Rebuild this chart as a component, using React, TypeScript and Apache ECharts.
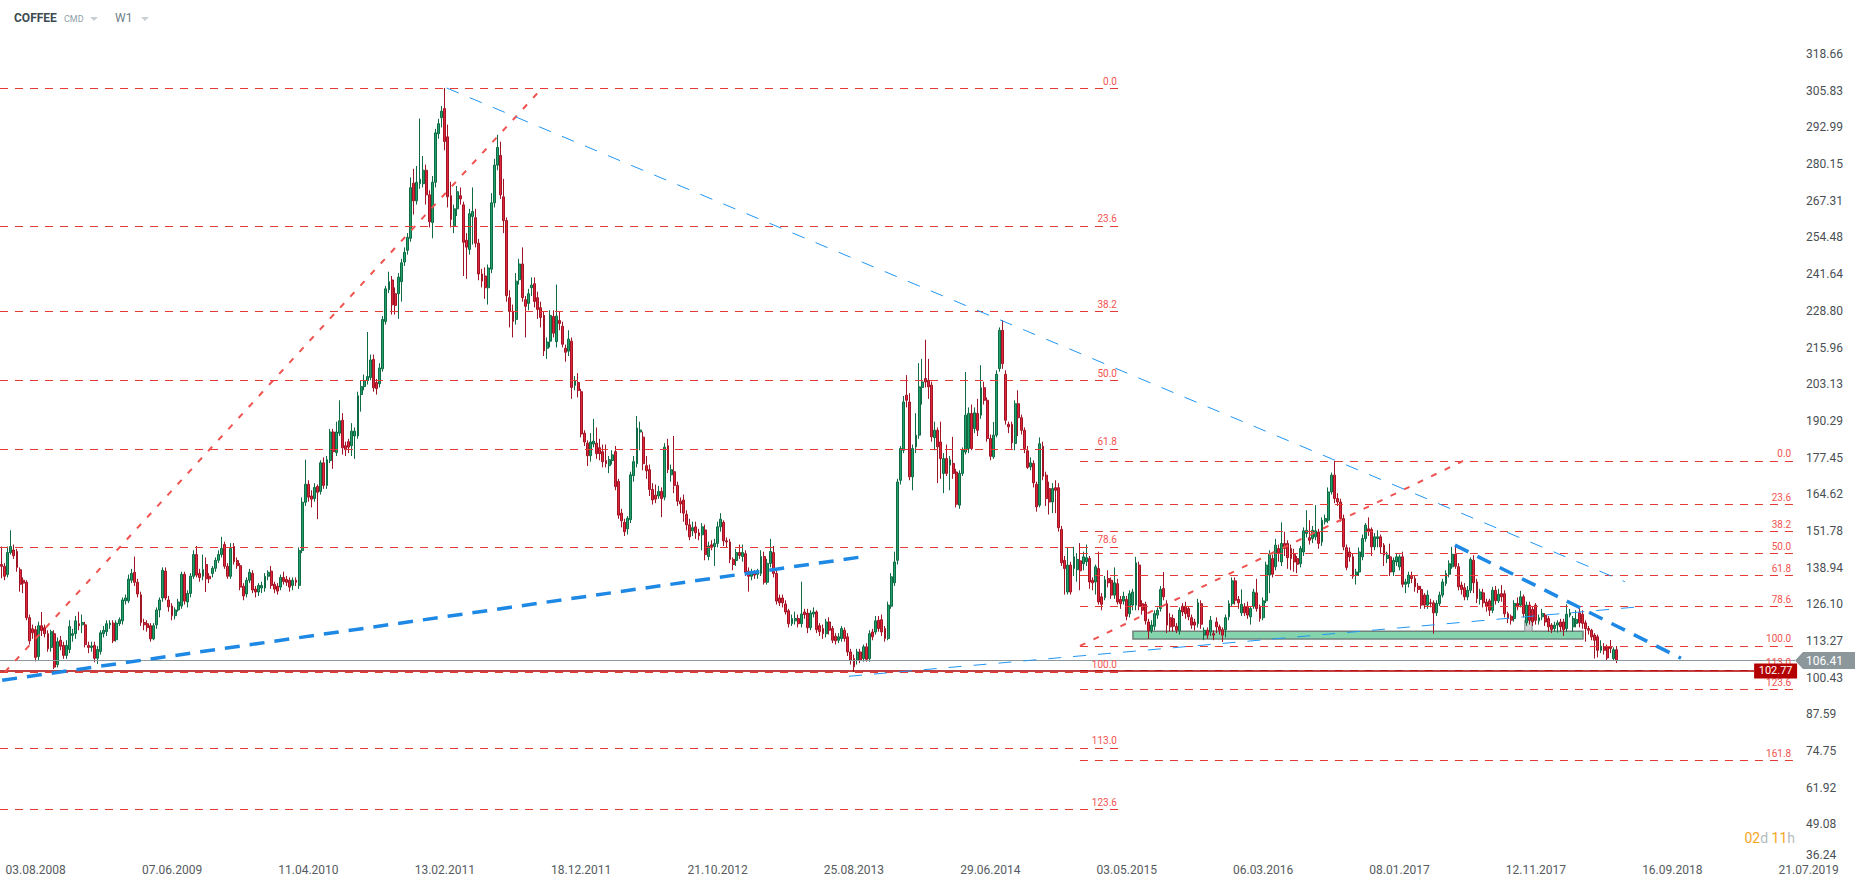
import React, { useEffect, useRef } from "react";
import * as echarts from "echarts";

const FONT = "Roboto, 'Noto Sans', Arial, sans-serif";

// ---------- axes ----------
const firstWeekUTC = Date.UTC(2008, 4, 18);
const weekCount = 602;
const xTickLabels = [
  "03.08.2008", "07.06.2009", "11.04.2010", "13.02.2011", "18.12.2011", "21.10.2012", "25.08.2013",
  "29.06.2014", "03.05.2015", "06.03.2016", "08.01.2017", "12.11.2017", "16.09.2018", "21.07.2019",
];
const yTickLabels = [
  "36.24", "49.08", "61.92", "74.75", "87.59", "100.43", "113.27", "126.10", "138.94", "151.78", "164.62", "177.45",
  "190.29", "203.13", "215.96", "228.80", "241.64", "254.48", "267.31", "280.15", "292.99", "305.83", "318.66",
];
const yAxisMin = 36.24;
const yAxisMax = 327.1;

// ---------- weekly candles [open, close, low, high] ----------
const candles2008to2010 = [
  [140.0,139.4,135.2,146.3],[139.4,135.9,134.5,140.5],[136.5,144.2,135.5,146.3],[144.2,146.3,143.5,152.0],[145.1,143.1,142.0,147.0],
  [144.6,139.0,137.5,145.5],[138.2,133.1,130.5,139.0],[134.5,133.5,130.0,135.5],[133.8,121.4,120.5,134.5],[121.4,113.3,112.0,122.5],
  [117.5,116.1,114.0,119.0],[117.2,107.5,106.1,118.5],[107.8,118.6,106.5,120.0],[118.6,116.9,115.0,123.4],[117.9,115.8,114.5,119.0],
  [115.8,110.5,109.5,117.0],[111.0,116.5,109.5,117.2],[115.8,104.1,103.4,117.0],[105.0,113.0,104.0,114.5],[113.5,111.4,110.0,115.0],
  [111.7,108.2,107.0,113.0],[108.2,111.7,107.0,113.5],[110.3,118.3,109.0,120.5],[115.2,115.8,113.0,117.5],[115.8,120.3,114.0,122.0],
  [119.3,118.6,117.0,123.5],[118.9,119.7,116.0,122.5],[118.9,112.0,111.0,120.0],[111.7,111.0,109.0,113.0],[111.0,111.5,109.5,113.0],
  [111.7,107.2,105.8,113.0],[107.2,110.3,105.2,111.5],[109.6,116.1,108.5,117.0],[115.8,117.0,114.5,118.5],[116.5,119.3,115.0,120.5],
  [118.9,119.5,117.5,120.5],[119.5,113.3,112.5,120.5],[113.7,119.5,113.0,120.5],[119.3,120.7,118.5,121.5],[120.3,127.6,119.0,128.5],
  [127.3,128.3,126.0,129.5],[127.3,134.9,126.5,136.5],[134.5,136.9,133.5,138.5],[137.3,133.8,132.5,142.8],[133.8,129.7,128.5,135.0],
  [129.4,119.7,118.5,130.5],[119.7,118.9,117.0,121.0],[119.3,117.9,116.5,120.5],[118.6,114.0,113.0,119.5],[114.0,118.6,113.5,119.5],
  [118.9,124.1,117.5,125.0],[124.1,127.6,121.5,128.5],[128.3,138.0,127.0,139.0],[137.7,128.3,127.5,139.0],[127.6,125.2,123.5,129.0],
  [125.5,122.1,120.5,126.5],[122.1,124.1,120.8,125.0],[124.1,126.9,123.5,128.0],[125.5,136.6,124.5,137.5],[136.6,127.2,126.0,137.5],
  [126.9,129.9,125.0,131.0],[129.9,135.9,128.5,137.0],[135.9,143.5,135.0,145.0],[143.5,136.3,135.5,146.5],[136.9,135.5,134.0,138.5],
  [135.9,138.2,134.5,143.5],[140.0,135.0,130.4,142.5],[135.9,135.0,133.5,137.0],[136.9,138.7,135.5,139.5],[138.7,141.5,137.5,142.5],
  [141.5,143.5,140.5,145.0],[143.5,145.6,142.5,149.7],[147.0,139.4,138.5,148.0],[139.4,135.9,135.0,140.5],[135.9,145.6,135.0,147.5],
  [146.3,141.0,140.0,147.5],[141.4,139.6,138.5,142.5],[139.6,132.1,131.0,140.5],[132.4,129.0,127.5,133.5],[129.7,134.5,128.5,135.5],
  [134.5,137.3,133.5,138.5],[136.9,131.1,130.0,138.0],[131.4,130.4,128.5,132.5],[130.4,132.7,129.0,133.5],[131.8,132.7,130.0,134.0],
  [131.8,135.9,130.5,137.0],[135.9,137.3,134.5,138.0],[137.7,132.7,131.5,139.5],[133.1,131.4,130.0,134.0],[132.4,130.7,129.5,133.5],
  [132.1,135.5,131.0,136.5],[135.5,134.1,133.0,137.5],[134.8,133.8,132.5,136.0],[134.5,132.1,130.5,135.5],[132.7,134.5,131.0,135.5],
  [134.5,133.8,132.5,135.5],[132.7,144.9,131.5,146.0],[144.9,161.8,144.0,163.5],[161.8,168.1,160.5,176.7],[168.1,163.6,162.0,169.5],
  [164.0,162.9,160.0,166.0],[163.1,167.0,162.0,168.5],[167.3,165.3,155.9,168.0],[165.6,175.6,164.5,176.5],[175.6,167.7,166.5,177.5],
  [167.7,176.7,166.5,178.0],[176.4,186.4,175.5,187.5],[186.4,179.5,173.5,187.5],[179.2,186.4,178.0,190.0],[186.0,190.3,185.0,197.5],
  [190.5,180.9,178.5,193.0],[181.6,180.2,178.0,183.0],[183.0,181.1,179.0,184.0],[181.6,186.7,178.0,189.5],[185.0,186.7,177.0,188.0],
  [185.0,199.1,184.0,200.5],[199.5,202.3,193.5,204.5],[202.3,204.4,201.0,206.5],[204.4,205.8,203.0,221.4],[205.5,211.6,204.5,213.5],
  [211.8,201.9,200.5,213.5],[203.7,201.6,199.5,205.0],[203.3,208.8,202.0,210.5],[208.5,225.8,207.5,227.0],[225.1,236.5,224.0,237.5],
  [236.2,239.0,235.0,242.5],[239.6,230.9,227.5,241.0],[234.8,230.7,227.5,237.0],[234.8,240.6,226.0,242.0],[239.0,245.6,232.0,247.0],
  [245.9,249.3,244.5,251.0],[250.0,254.5,248.5,256.0],[254.2,271.9,253.0,275.5],[273.5,267.3,262.5,278.5],[267.3,273.8,266.0,279.5],
];
const candles2011to2013 = [
  [273.3,274.9,271.5,296.1],[273.3,278.0,272.0,283.0],[278.0,269.4,266.0,280.0],[269.4,260.0,258.0,271.0],[259.7,273.8,254.2,276.0],
  [273.8,291.1,272.0,292.5],[290.8,294.3,289.0,296.0],[296.4,298.7,293.0,300.5],[299.6,288.1,285.0,306.8],[289.7,268.7,265.0,294.0],
  [269.1,260.8,258.0,274.0],[258.6,264.5,256.0,266.0],[264.5,270.5,262.0,272.5],[269.1,268.0,266.0,272.0],[265.9,252.8,241.0,267.0],
  [253.5,251.1,240.0,256.0],[250.3,262.8,248.5,264.5],[261.8,263.6,252.0,272.0],[261.4,252.5,251.0,264.5],[252.5,241.7,239.5,254.0],
  [241.7,239.2,237.0,243.5],[241.0,236.9,233.0,244.0],[236.9,243.8,231.0,245.0],[243.4,266.6,242.0,270.0],[266.6,279.8,265.0,282.0],
  [279.8,286.0,278.0,290.4],[283.2,269.4,268.0,288.0],[268.7,260.4,256.0,275.0],[260.4,234.1,232.0,261.5],[233.4,228.6,223.0,236.0],
  [228.6,225.1,219.5,231.0],[225.8,239.2,224.0,242.0],[239.7,245.2,238.0,247.0],[245.2,233.4,232.0,251.0],[232.7,230.4,219.5,234.0],
  [231.4,234.8,229.0,236.5],[236.9,237.8,234.0,240.5],[238.3,232.1,230.0,240.5],[233.4,229.3,226.0,235.5],[229.9,226.5,223.0,232.0],
  [227.2,214.8,213.0,228.5],[215.7,217.9,212.0,219.5],[218.2,227.2,216.0,229.0],[226.8,221.0,219.5,229.0],[218.0,227.0,216.0,238.0],
  [225.4,224.4,222.0,228.5],[223.4,217.1,216.0,225.0],[215.7,214.3,211.0,217.0],[214.7,218.9,213.0,222.0],[218.2,202.0,198.0,219.5],
  [202.7,204.4,201.0,206.0],[203.7,200.9,198.5,207.0],[200.5,185.7,184.5,201.5],[186.0,182.9,181.5,187.0],[182.5,178.1,174.5,183.5],
  [178.1,182.9,176.0,186.0],[182.2,183.2,181.0,191.0],[182.5,178.8,177.0,188.0],[180.9,178.8,176.5,184.0],[179.5,176.0,174.0,182.0],
  [176.4,175.3,174.0,182.0],[174.6,176.7,172.0,178.0],[176.4,178.4,175.0,180.0],[179.5,167.3,166.0,181.5],[169.1,157.3,156.0,170.0],
  [158.0,155.3,153.0,159.5],[154.8,151.5,150.0,156.0],[152.5,156.2,150.5,157.0],[155.7,171.4,154.5,172.5],[171.1,176.0,169.0,178.0],
  [175.3,187.8,174.0,192.0],[186.4,187.1,180.0,190.0],[184.6,175.3,173.0,186.5],[174.6,172.8,170.0,178.0],[173.2,166.3,164.0,175.0],
  [166.3,162.6,161.0,168.5],[164.3,162.9,161.5,168.0],[164.0,165.6,163.0,167.5],[165.6,163.1,156.6,167.0],[163.6,181.1,162.5,182.5],
  [181.6,173.2,172.0,184.0],[171.4,173.2,169.0,175.0],[172.5,167.7,165.0,185.0],[167.7,162.2,160.5,169.0],[162.2,161.2,158.0,163.5],
  [162.6,158.0,155.0,164.5],[157.6,153.9,152.0,159.0],[153.9,149.7,148.5,156.0],[151.8,152.9,150.0,155.0],[153.2,151.1,149.0,155.0],
  [151.1,150.1,148.5,152.5],[150.4,153.2,145.0,154.5],[152.1,143.5,141.5,154.0],[142.8,146.5,141.5,148.0],[146.9,146.3,145.0,148.5],
  [146.3,147.4,139.5,149.0],[147.4,153.2,146.0,155.0],[153.2,155.9,151.5,158.0],[154.8,148.3,146.5,155.5],[148.3,147.9,146.0,149.5],
  [147.9,141.8,140.5,149.0],[141.8,140.0,138.0,142.5],[141.4,144.2,139.5,145.5],[144.2,143.2,142.0,147.0],[142.8,144.2,141.0,147.0],
  [143.8,137.3,136.0,145.0],[137.7,135.9,130.5,139.0],[135.9,137.5,134.5,138.5],[137.3,136.3,135.0,138.0],[136.6,137.3,135.0,138.5],
  [136.9,142.8,136.0,145.0],[142.8,133.8,133.0,144.5],[133.8,140.4,133.0,142.0],[140.4,144.6,139.0,149.0],[144.2,136.9,135.5,146.5],
  [136.9,127.2,126.0,138.0],[128.3,126.6,125.5,129.5],[128.3,126.6,125.0,129.5],[126.2,123.4,122.5,127.5],[123.8,119.3,118.0,124.5],
  [119.3,121.1,118.5,122.5],[120.3,121.1,119.0,123.5],[121.1,119.3,118.0,122.5],[119.3,122.7,118.0,134.0],[123.4,122.5,121.0,124.5],
  [123.0,117.9,116.0,124.5],[117.9,123.0,117.0,124.0],[122.7,123.4,121.5,125.0],[123.4,117.2,116.0,124.0],[118.6,116.5,115.0,119.5],
];
const candles2013to2015 = [
  [117.6,115.8,114.0,119.0],[115.8,119.9,114.5,121.0],[119.9,117.0,115.5,121.5],[117.6,113.5,112.5,118.5],[114.9,113.3,112.0,116.0],
  [113.5,114.7,112.5,116.0],[114.1,117.6,113.0,118.5],[117.0,114.1,113.0,118.0],[114.7,109.4,108.0,116.0],[109.4,106.5,105.0,110.5],
  [107.1,104.2,102.4,108.5],[106.5,109.4,105.0,110.5],[109.4,106.5,105.5,110.5],[107.1,111.2,106.0,112.0],[111.2,106.8,106.0,112.5],
  [107.1,115.8,106.0,117.0],[116.4,114.7,113.5,117.5],[116.4,120.3,115.5,122.0],[120.5,117.6,116.5,122.0],[120.7,116.4,115.0,122.5],
  [117.6,114.1,113.0,118.5],[114.1,125.8,113.5,127.0],[125.4,135.7,124.5,137.0],[133.6,140.9,132.5,144.5],[141.5,168.9,140.0,170.0],
  [169.5,180.6,168.0,181.5],[180.0,196.9,179.0,199.0],[199.3,197.5,195.0,206.3],[196.9,170.7,169.5,200.0],[170.7,180.6,166.0,182.0],
  [181.2,185.3,179.0,193.0],[185.3,202.2,184.0,210.5],[202.0,203.9,196.0,212.0],[205.1,203.9,202.0,218.7],[204.5,202.2,198.0,212.0],
  [202.8,184.7,183.0,204.0],[184.4,187.0,180.0,190.0],[187.0,181.2,168.5,188.0],[182.9,177.1,170.0,190.0],[171.9,177.1,165.0,179.0],
  [177.1,171.9,171.0,182.0],[174.8,176.7,166.0,178.0],[175.4,171.9,170.0,184.7],[172.4,161.1,160.0,173.5],[160.8,171.9,159.5,173.0],
  [171.9,180.0,171.0,181.0],[179.4,192.3,178.5,207.4],[180.6,192.9,179.0,195.0],[192.9,180.6,180.0,196.0],[187.6,193.1,186.0,195.0],
  [192.9,187.0,185.0,198.0],[192.3,201.9,191.0,209.8],[201.9,197.5,196.0,204.0],[197.5,184.1,183.0,198.5],[184.1,177.9,176.5,185.5],
  [177.7,185.3,177.0,189.9],[185.3,206.6,184.5,208.0],[208.6,222.0,207.5,223.0],[222.0,210.3,208.5,225.5],[206.6,190.5,189.0,208.0],
  [189.1,188.2,186.0,190.0],[189.1,182.6,180.5,190.0],[182.4,196.3,180.0,197.5],[196.3,191.4,185.0,201.0],[191.4,187.0,185.5,192.5],
  [187.0,180.6,179.0,188.0],[179.8,174.0,173.5,181.5],[174.2,175.6,173.0,177.5],[175.4,168.6,167.0,176.5],[168.1,160.2,158.5,169.0],
  [160.8,182.3,160.0,184.5],[181.4,170.9,169.5,183.0],[171.3,163.1,160.5,172.5],[166.6,161.9,157.5,169.0],[161.9,166.6,158.0,168.5],
  [166.9,166.0,158.0,169.5],[166.9,152.9,151.5,168.5],[152.3,140.6,139.5,153.5],[141.5,138.6,129.5,143.0],[130.4,139.8,129.5,146.0],
  [139.8,130.4,129.5,141.0],[138.6,142.7,136.0,146.2],[138.2,141.8,134.0,144.0],[141.3,137.8,131.0,147.5],[140.3,142.7,138.0,144.5],
  [141.0,142.4,139.5,147.0],[142.1,133.9,131.5,143.0],[134.5,133.6,131.0,135.5],[133.9,139.2,129.5,140.0],[138.6,126.9,126.0,144.5],
  [128.7,126.1,124.0,130.0],[128.4,134.7,127.5,136.0],[135.1,133.6,132.0,138.0],[134.5,129.3,128.0,135.5],[129.3,133.6,128.0,139.0],
  [133.3,126.9,126.0,135.0],[127.8,126.3,124.5,129.0],[127.2,128.9,126.0,130.5],[127.8,121.9,120.5,129.0],[122.8,129.8,121.5,131.0],
  [125.8,130.4,124.0,131.5],[125.8,140.6,124.0,142.7],[139.8,125.4,124.0,141.0],[126.3,124.0,122.5,127.5],[126.1,120.3,119.0,127.0],
  [119.9,116.8,114.0,121.0],[116.8,118.8,116.0,120.5],[118.4,122.8,117.0,124.0],[122.3,124.0,121.0,125.0],[124.6,131.3,123.5,132.5],
  [131.6,128.7,127.5,137.4],[126.3,118.8,116.0,127.5],[121.4,118.2,116.5,123.0],[121.1,118.4,116.5,122.5],[118.4,117.0,116.0,119.5],
  [116.8,124.0,115.5,125.0],[125.4,123.4,122.0,126.5],[125.4,122.8,121.0,127.0],[124.6,121.7,120.5,125.5],[121.4,118.8,117.5,122.5],
  [119.9,118.8,117.0,121.0],[119.3,126.6,118.0,128.0],[126.3,119.1,117.5,127.5],[115.3,117.0,113.5,118.0],[117.0,115.3,114.0,118.0],
  [116.4,120.5,115.0,122.0],[115.8,115.3,113.5,117.0],
];
const candles2015to2018 = [
  [119.9,118.2,116.0,121.5],[118.2,117.0,115.5,119.0],[117.2,115.3,112.9,118.0],[117.2,121.4,114.5,122.5],[121.7,126.3,120.5,127.5],
  [126.3,134.3,125.5,135.5],[134.3,127.5,126.0,135.5],[127.8,126.6,124.5,129.0],[123.1,126.1,122.0,131.3],[125.2,123.1,122.0,126.5],
  [125.4,122.3,121.0,127.0],[121.7,124.6,119.0,125.5],[125.4,130.4,124.5,131.5],[130.1,124.6,123.5,135.0],[125.4,121.1,120.0,126.0],
  [121.4,127.3,120.5,128.5],[127.3,139.8,126.5,141.0],[136.3,143.6,130.0,145.0],[142.1,136.6,135.5,143.5],[139.2,146.8,138.0,149.0],
  [145.6,144.1,141.0,147.0],[140.9,147.4,139.5,154.8],[147.4,145.6,143.0,151.5],[147.4,142.4,138.5,148.5],[145.6,142.1,138.0,147.0],
  [143.6,140.9,137.5,145.5],[142.1,140.1,137.0,143.0],[140.3,145.6,139.0,146.5],[144.4,151.8,143.0,153.0],[150.9,152.0,149.5,159.0],
  [149.4,148.5,147.0,155.5],[149.1,152.0,147.5,153.5],[149.7,151.8,148.5,160.8],[151.4,147.4,145.5,152.5],[147.9,155.5,146.5,156.5],
  [155.0,156.1,154.0,157.5],[155.5,165.4,154.5,167.0],[165.4,171.3,164.5,172.2],[171.3,163.1,161.5,176.3],[163.1,161.9,160.5,165.0],
  [161.9,156.1,155.0,163.0],[156.1,146.2,145.0,157.5],[145.9,139.0,138.0,147.0],[144.4,142.7,141.0,146.0],[142.7,135.9,135.0,144.0],
  [136.3,137.4,133.0,138.5],[137.4,144.4,136.0,146.0],[142.7,149.1,141.5,150.5],[149.1,153.8,148.0,154.5],[152.5,151.8,150.0,156.5],
  [152.3,146.2,143.0,153.0],[146.2,149.7,145.0,151.0],[149.1,149.7,146.0,152.0],[149.7,146.2,144.0,150.5],[146.8,143.3,139.5,147.5],
  [142.1,143.3,140.5,144.5],[142.7,137.4,136.0,147.3],[137.4,141.5,136.0,142.5],[140.9,142.7,139.5,144.0],[139.2,142.7,138.0,143.5],
  [142.7,133.1,132.0,144.5],[133.1,133.9,130.0,135.0],[133.4,136.3,132.0,137.5],[135.9,135.1,133.5,137.5],[135.1,132.2,130.5,136.0],
  [132.4,131.3,130.0,133.5],[131.3,125.8,124.5,132.5],[129.3,125.8,124.5,130.0],[125.8,129.3,124.5,131.0],[126.6,126.4,125.0,128.0],
  [126.6,123.1,115.8,127.5],[123.1,126.4,122.0,127.5],[126.4,129.3,125.5,130.5],[129.3,133.9,128.5,135.0],[133.4,136.9,132.5,138.0],
  [136.6,140.3,135.5,141.5],[139.2,143.6,138.5,146.2],[143.6,139.4,138.5,146.8],[139.2,132.2,131.0,140.5],[132.8,131.3,129.5,134.0],
  [131.9,128.7,127.5,133.5],[128.7,131.0,127.5,132.5],[131.0,141.8,130.0,142.5],[141.5,133.6,130.0,143.3],[133.9,128.1,126.5,135.0],
  [127.8,130.4,126.0,131.5],[130.1,126.6,125.0,131.5],[126.9,125.4,123.5,128.0],[127.3,124.0,122.0,128.0],[124.0,131.0,123.0,132.2],
  [131.0,127.3,126.0,132.5],[127.3,129.6,126.5,131.5],[129.8,128.7,127.0,132.8],[129.8,122.8,121.5,131.0],[122.8,121.1,119.5,123.5],
  [121.9,120.5,119.0,122.5],[121.1,126.4,120.0,127.5],[126.4,125.2,124.0,128.5],[125.8,128.7,125.0,130.8],[128.7,122.8,121.5,129.5],
  [119.6,125.8,118.5,127.0],[125.8,120.5,119.0,127.0],[124.3,119.9,118.5,125.5],[125.8,120.5,119.0,126.5],[120.3,121.4,119.0,122.5],
  [121.7,122.9,120.5,124.5],[122.3,119.9,118.5,123.0],[121.1,118.2,116.5,122.0],[118.8,117.2,116.0,119.5],[117.6,118.8,116.5,120.0],
  [118.8,119.6,116.2,120.5],[119.9,118.2,116.5,121.0],[119.9,117.2,115.0,121.0],[117.6,122.6,116.5,126.1],[122.3,123.1,121.5,124.5],
  [118.2,121.1,116.5,122.0],[119.4,120.8,118.0,124.0],[123.1,119.6,118.0,125.2],[122.6,119.4,117.5,124.0],[119.6,117.6,113.0,120.5],
  [117.6,117.0,115.5,118.5],[117.0,114.7,113.5,117.5],[115.3,113.5,107.1,116.0],[114.7,110.0,107.5,115.5],[110.0,111.4,109.0,113.5],
  [111.2,110.0,108.5,112.5],[111.2,107.3,106.5,112.0],[111.2,110.6,109.0,113.6],[107.1,110.2,106.5,111.0],[110.2,106.5,105.5,111.5],
];

// ---------- drawings (x = week index, y = price) ----------
const lastPrice = 106.41;
const markedPrice = 102.77;
const priceLineEndWeek = 578.6;
const markedLineEndWeek = 565.4;
const leftFibRange = { high: 306.76, low: 102.42, fromWeek: -0.5, toWeek: 360.5 };
const leftFibLevels = [0, 23.6, 38.2, 50, 61.8, 78.6, 100, 113, 123.6];
const rightFibRange = { high: 176.27, low: 111.52, fromWeek: 347.9, toWeek: 578 };
const rightFibLevels = [0, 23.6, 38.2, 50, 61.8, 78.6, 100, 113, 123.6, 161.8];
const fibDiagonals = [
  [[1.1, 102.42], [174.4, 306.76]],
  [[347.9, 111.52], [471.5, 176.27]],
];
const thinBlueLines = [
  [[143.6, 306.8], [523.7, 134.0]],
  [[273.4, 100.9], [530.2, 125.4]],
];
const thickBlueLines = [
  [[0.2, 99.5], [278.9, 142.9]],
  [[468.9, 146.8], [541.8, 107.2]],
];
const supportZone = [[365, 116.66], [510.2, 113.97]];
const highlightBox = [[491.4, 120.5], [493.8, 116.6]];

// ---------- derived ----------
const pad = (n: number) => (n < 10 ? "0" + n : "" + n);
const categories: string[] = [];
for (let i = 0; i < weekCount; i++) {
  const d = new Date(firstWeekUTC + i * 7 * 86400000);
  categories.push(`${pad(d.getUTCDate())}.${pad(d.getUTCMonth() + 1)}.${d.getUTCFullYear()}`);
}
const allCandles = [...candles2008to2010, ...candles2011to2013, ...candles2013to2015, ...candles2015to2018];
const yStep = (Number(yTickLabels[yTickLabels.length - 1]) - Number(yTickLabels[0])) / (yTickLabels.length - 1);

const fibLines = (range: typeof leftFibRange, levels: number[]) =>
  levels.map((lv) => {
    const p = range.high - (lv / 100) * (range.high - range.low);
    return [
      {
        coord: [range.fromWeek, p],
        lineStyle: { color: "#e53935", width: 1, type: [8, 7] },
        label: {
          show: true,
          position: "insideEndTop",
          formatter: lv.toFixed(1),
          color: "#ef5350",
          fontSize: 10,
          fontFamily: FONT,
          distance: 2,
        },
      },
      { coord: [range.toWeek, p] },
    ];
  });

const segs = (list: number[][][], color: string, width: number, dash: number[]) =>
  list.map(([a, b]) => [
    { coord: a, lineStyle: { color, width, type: dash }, label: { show: false } },
    { coord: b },
  ]);

export default function App() {
  const ref = useRef<HTMLDivElement>(null);
  useEffect(() => {
    if (!ref.current) return;
    const chart = echarts.init(ref.current, undefined, { renderer: "svg" });
    const option: any = {
      animation: false,
      backgroundColor: "#ffffff",
      grid: { left: 0, right: 0, top: 30, bottom: 24 },
      xAxis: [
        {
          type: "category",
          data: categories,
          axisLine: { show: false },
          axisTick: { show: false },
          splitLine: { show: false },
          axisLabel: {
            interval: (_i: number, v: string) => xTickLabels.includes(v),
            color: "#555b60",
            fontSize: 12,
            fontFamily: FONT,
            margin: 3,
          },
        },
        { type: "value", min: -0.5, max: weekCount - 0.5, show: false },
      ],
      yAxis: [
        { type: "value", min: yAxisMin, max: yAxisMax, show: false, splitLine: { show: false } },
        {
          type: "value",
          position: "right",
          min: 0,
          max: (yAxisMax - yAxisMin) / yStep,
          interval: 1,
          axisLine: { show: false },
          axisTick: { show: false },
          splitLine: { show: false },
          axisLabel: {
            inside: true,
            align: "left",
            margin: 60,
            color: "#4a4f54",
            fontSize: 12,
            fontFamily: FONT,
            formatter: (v: number) => {
              const k = Math.round(v);
              if (Math.abs(v - k) > 1e-6 || !yTickLabels[k]) return "";
              return k === 0 ? `{low|${yTickLabels[k]}}` : yTickLabels[k];
            },
            rich: { low: { padding: [0, 0, 12, 0], color: "#4a4f54", fontSize: 12, fontFamily: FONT } },
          },
        },
      ],
      series: [
        {
          type: "candlestick",
          xAxisIndex: 0,
          yAxisIndex: 0,
          data: allCandles,
          barWidth: 2.4,
          z: 2,
          itemStyle: {
            color: "#22a06b",
            color0: "#e2263a",
            borderColor: "#0f6b43",
            borderColor0: "#a01525",
            borderWidth: 1,
          },
        },
        {
          type: "line",
          xAxisIndex: 1,
          yAxisIndex: 0,
          data: [[-100, -100]],
          symbol: "none",
          silent: true,
          z: 3,
          markLine: {
            silent: true,
            symbol: ["none", "none"],
            animation: false,
            data: [
              ...fibLines(leftFibRange, leftFibLevels),
              ...fibLines(rightFibRange, rightFibLevels),
              [
                { coord: [-0.5, lastPrice], lineStyle: { color: "#8d999e", width: 1, type: "solid" }, label: { show: false } },
                { coord: [priceLineEndWeek, lastPrice] },
              ],
              [
                { coord: [-0.5, markedPrice], lineStyle: { color: "#b00000", width: 1.5, type: "solid" }, label: { show: false } },
                { coord: [markedLineEndWeek, markedPrice] },
              ],
            ],
          },
        },
        {
          type: "line",
          xAxisIndex: 1,
          yAxisIndex: 0,
          data: [[-100, -100]],
          symbol: "none",
          silent: true,
          z: 4,
          markLine: {
            silent: true,
            symbol: ["none", "none"],
            animation: false,
            data: [
              ...segs(fibDiagonals, "#ef5350", 2, [6, 9]),
              ...segs(thinBlueLines, "#2196f3", 1, [13, 12]),
              ...segs(thickBlueLines, "#1e88e5", 3.5, [15, 10]),
            ],
          },
          markArea: {
            silent: true,
            data: [
              [
                { coord: supportZone[0], itemStyle: { color: "rgba(110,206,160,0.85)", borderColor: "#6f817b", borderWidth: 1.5 } },
                { coord: supportZone[1] },
              ],
              [
                { coord: highlightBox[0], itemStyle: { color: "rgba(160,170,170,0.5)", borderColor: "#8a9696", borderWidth: 1 } },
                { coord: highlightBox[1] },
              ],
            ],
          },
        },
      ],
    };
    chart.setOption(option);

    const yGray = chart.convertToPixel({ yAxisIndex: 0 }, lastPrice) as number;
    const yRed = chart.convertToPixel({ yAxisIndex: 0 }, markedPrice) as number;
    const xGrayTag = chart.convertToPixel({ xAxisIndex: 1 }, priceLineEndWeek) as number;
    const xRedTag = chart.convertToPixel({ xAxisIndex: 1 }, markedLineEndWeek) as number;

    chart.setOption({
      graphic: [
        { type: "text", left: 14, top: 12, style: { text: "COFFEE", font: `bold 12px ${FONT}`, fill: "#3c4a52" } },
        { type: "text", left: 64, top: 14, style: { text: "CMD", font: `9px ${FONT}`, fill: "#90a0a8" } },
        { type: "polygon", shape: { points: [[90, 17], [98, 17], [94, 21]] }, style: { fill: "#c8d0d4" } },
        { type: "text", left: 115, top: 12, style: { text: "W1", font: `12px ${FONT}`, fill: "#707f88" } },
        { type: "polygon", shape: { points: [[141, 17], [149, 17], [145, 21]] }, style: { fill: "#c8d0d4" } },
        {
          type: "polygon",
          z: 100,
          shape: {
            points: [
              [xGrayTag, yGray], [xGrayTag + 8, yGray - 8.5], [xGrayTag + 60, yGray - 8.5],
              [xGrayTag + 60, yGray + 8.5], [xGrayTag + 8, yGray + 8.5],
            ],
          },
          style: { fill: "#8c979c" },
        },
        {
          type: "text",
          z: 101,
          x: xGrayTag + 11,
          y: yGray,
          style: { text: lastPrice.toFixed(2), font: `12px ${FONT}`, fill: "#ffffff", verticalAlign: "middle" },
        },
        {
          type: "rect",
          z: 100,
          shape: { x: xRedTag, y: yRed - 7.5, width: 43, height: 15 },
          style: { fill: "#b30000" },
        },
        {
          type: "text",
          z: 101,
          x: xRedTag + 21.5,
          y: yRed,
          style: { text: markedPrice.toFixed(2), font: `11px ${FONT}`, fill: "#ffffff", align: "center", verticalAlign: "middle" },
        },
        {
          type: "text",
          right: 71,
          top: 831,
          style: {
            text: "{o|02}{g|d} {o|11}{g|h}",
            font: `14px ${FONT}`,
            rich: {
              o: { fill: "#f5a623", font: `14px ${FONT}` },
              g: { fill: "#b3bcc0", font: `14px ${FONT}` },
            },
          },
        },
      ],
    });

    return () => chart.dispose();
  }, []);

  return (
    <div
      ref={ref}
      style={{ position: "absolute", left: 0, top: 0, width: 1866, height: 885, background: "#fff" }}
    />
  );
}
